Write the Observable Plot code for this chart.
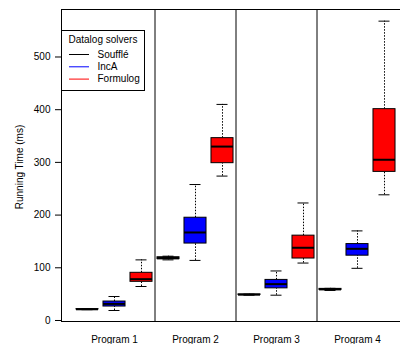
<!DOCTYPE html>
<html>
<head>
<meta charset="utf-8">
<script src="https://cdn.jsdelivr.net/npm/d3@7"></script>
<script src="https://cdn.jsdelivr.net/npm/@observablehq/plot@0.6"></script>
<style>
  html, body { margin: 0; padding: 0; background: #fff; overflow: hidden; width: 400px; height: 344px; }
  #chart { width: 400px; height: 344px; overflow: hidden; }
  #chart svg { max-width: none !important; display: block; }
</style>
</head>
<body>
<div id="chart"></div>
<script>
// ---- data ----
const programs = ["Program 1", "Program 2", "Program 3", "Program 4"];
const solvers = ["Soufflé", "IncA", "Formulog"];
const solverColors = ["black", "blue", "red"];
const yTicks = [0, 100, 200, 300, 400, 500];

const souffleLow  = [20.5, 115, 48, 57];
const souffleQ1   = [21, 116.5, 48.5, 58];
const souffleMed  = [21.3, 118, 49, 59];
const souffleQ3   = [21.6, 120, 49.5, 60];
const souffleHigh = [22, 122, 50, 61];

const incaLow  = [19, 114, 48, 99];
const incaQ1   = [26.5, 146, 61, 123];
const incaMed  = [31.5, 167, 69, 136];
const incaQ3   = [36, 195, 77, 145];
const incaHigh = [45.5, 258, 94, 170];

const formLow  = [64.5, 274, 109, 238.5];
const formQ1   = [73.4, 298.5, 117.6, 282];
const formMed  = [78.4, 330, 138, 305];
const formQ3   = [90.5, 346, 161, 401];
const formHigh = [115, 410, 223, 568];

// ---- build table ----
const stats = [
  [souffleLow, souffleQ1, souffleMed, souffleQ3, souffleHigh],
  [incaLow, incaQ1, incaMed, incaQ3, incaHigh],
  [formLow, formQ1, formMed, formQ3, formHigh]
];
const rows = [];
programs.forEach((p, i) => {
  solvers.forEach((s, j) => {
    const [lo, q1, md, q3, hi] = stats[j].map(a => a[i]);
    rows.push({program: p, solver: s, color: solverColors[j], pos: (i + 1) + (j - 1) / 3, lo, q1, md, q3, hi});
  });
});

const bw = 0.136;   // half box width (x units)
const cw = 0.068;   // half cap width

const font = "'Liberation Sans', Arial, Helvetica, sans-serif";

const plot = Plot.plot({
  width: 413,
  height: 344,
  marginLeft: 61,
  marginRight: 3,
  marginTop: 9,
  marginBottom: 23,
  style: {fontFamily: font, fontSize: "10px", color: "black", background: "white", maxWidth: "none"},
  x: {type: "linear", domain: [1 - 53/81, 4 + 53/81], axis: null},
  y: {domain: [-1.9, 590.1], axis: null},
  marks: [
    Plot.frame({stroke: "black", strokeWidth: 1}),
    Plot.ruleX([1.5, 2.5, 3.5], {stroke: "black", strokeWidth: 1}),
    // whiskers
    Plot.ruleX(rows, {x: "pos", y1: "q3", y2: "hi", stroke: "black", strokeWidth: 1, strokeDasharray: "1.5,1.5"}),
    Plot.ruleX(rows, {x: "pos", y1: "lo", y2: "q1", stroke: "black", strokeWidth: 1, strokeDasharray: "1.5,1.5"}),
    // caps
    Plot.ruleY(rows, {y: "hi", x1: d => d.pos - cw, x2: d => d.pos + cw, stroke: "black", strokeWidth: 1}),
    Plot.ruleY(rows, {y: "lo", x1: d => d.pos - cw, x2: d => d.pos + cw, stroke: "black", strokeWidth: 1}),
    // boxes
    Plot.rect(rows, {x1: d => d.pos - bw, x2: d => d.pos + bw, y1: "q1", y2: "q3", fill: "color", stroke: "black", strokeWidth: 1}),
    // medians
    Plot.ruleY(rows, {y: "md", x1: d => d.pos - bw, x2: d => d.pos + bw, stroke: "black", strokeWidth: 2}),
    // y axis
    Plot.axisY(yTicks, {tickSize: 6, tickPadding: 5, fontSize: 10, stroke: "black"}),
    // x labels
    Plot.axisX([1, 2, 3, 4], {tickSize: 0, tickPadding: 14, fontSize: 10, tickFormat: d => programs[d - 1], label: null})
  ]
});

document.getElementById("chart").appendChild(plot);

// axis label and legend drawn into the svg
const svg = d3.select(plot);
svg.append("text")
  .attr("transform", "translate(23,167) rotate(-90)")
  .attr("text-anchor", "middle")
  .attr("font-family", font).attr("font-size", 10).attr("fill", "black")
  .text("Running Time (ms)");

const lg = svg.append("g").attr("text-anchor", "start");
lg.append("rect").attr("x", 61.5).attr("y", 30.5).attr("width", 83).attr("height", 60)
  .attr("fill", "white").attr("stroke", "black").attr("stroke-width", 1);
lg.append("text").attr("x", 68.5).attr("y", 42.5).attr("text-anchor", "start")
  .attr("font-family", font).attr("font-size", 10).attr("fill", "black").text("Datalog solvers");
solvers.forEach((s, j) => {
  const yy = 54.5 + j * 12.3;
  lg.append("line").attr("x1", 69).attr("x2", 89).attr("y1", yy).attr("y2", yy)
    .attr("stroke", solverColors[j]).attr("stroke-width", 1);
  lg.append("text").attr("x", 97.5).attr("y", yy + 3.3).attr("text-anchor", "start")
    .attr("font-family", font).attr("font-size", 10).attr("fill", "black").text(s);
});
</script>
</body>
</html>
